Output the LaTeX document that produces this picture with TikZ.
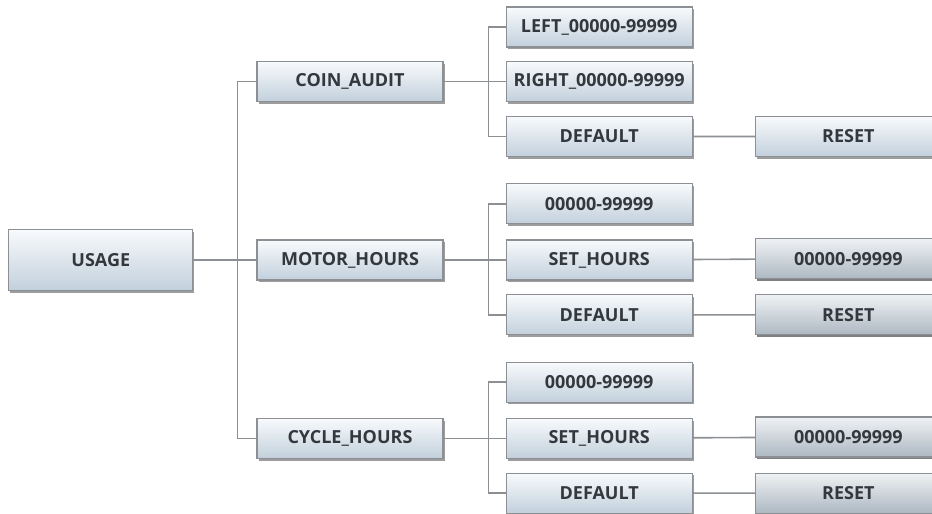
\documentclass[tikz,border=0pt]{standalone}
\usepackage{fontspec}
\setmainfont{Open Sans}
\usepackage{tikz}
\usetikzlibrary{matrix,shadows,positioning}
\definecolor{boxtop}{HTML}{F8FAFC}
\definecolor{boxbottom}{HTML}{C2D0DC}
\definecolor{darktop}{HTML}{EFF2F4}
\definecolor{darkbottom}{HTML}{ADB8C2}
\definecolor{boxline}{HTML}{8C9094}
\definecolor{boxtext}{HTML}{33383E}
\tikzset{
  menu box/.style={
    draw=boxline, line width=1.2pt,
    top color=boxtop, bottom color=boxbottom,
    drop shadow={shadow xshift=1.5pt,shadow yshift=-2.2pt,fill=black!55,opacity=0.7},
    minimum width=186pt, minimum height=40pt, inner sep=0pt,
    font=\fontsize{18}{21}\selectfont\bfseries, text=boxtext},
  dark box/.style={
    menu box, top color=darktop, bottom color=darkbottom},
  link/.style={draw=boxline, line width=1.6pt},
  }

\begin{document}
\begin{tikzpicture}
            \useasboundingbox (0,0) rectangle (932pt,-514pt);
            \matrix (m) [matrix of nodes,nodes={menu box},column sep=62pt,row sep=13.6pt,
                         matrix anchor=m-5-1.center] at (350pt,-260pt)
            {
                          & LEFT\_00000-99999  &                        \\
            COIN\_AUDIT   & RIGHT\_00000-99999 &                        \\
                          & DEFAULT            & RESET                  \\[12.5pt]
                          & 00000-99999        &                        \\
            MOTOR\_HOURS  & SET\_HOURS         & |[dark box]|00000-99999 \\
                          & DEFAULT            & |[dark box]|RESET      \\[12.5pt]
                          & 00000-99999        &                        \\
            CYCLE\_HOURS  & SET\_HOURS         & |[dark box]|00000-99999 \\
                          & DEFAULT            & |[dark box]|RESET      \\
            };
            \node (usage) [menu box,minimum width=184pt,minimum height=61pt,left=63pt of m-5-1] {USAGE};

            % Trunk
            \draw[link] (usage) -- (m-5-1);
            \draw[link] (m-2-1.west) -- ++(-19pt,0) |- (m-8-1.west);

            % Branches
            \foreach \r in {2,5,8}
                \draw[link] (m-\r-1) -- (m-\r-2);
            \foreach \a/\b in {1/3,4/6,7/9}
                \draw[link] (m-\a-2.west) -- ++(-17pt,0) |- (m-\b-2.west);

            % Leaves
            \foreach \r in {3,5,6,8,9}
                \draw[link] (m-\r-2) -- (m-\r-3);
        \end{tikzpicture}
\end{document}
